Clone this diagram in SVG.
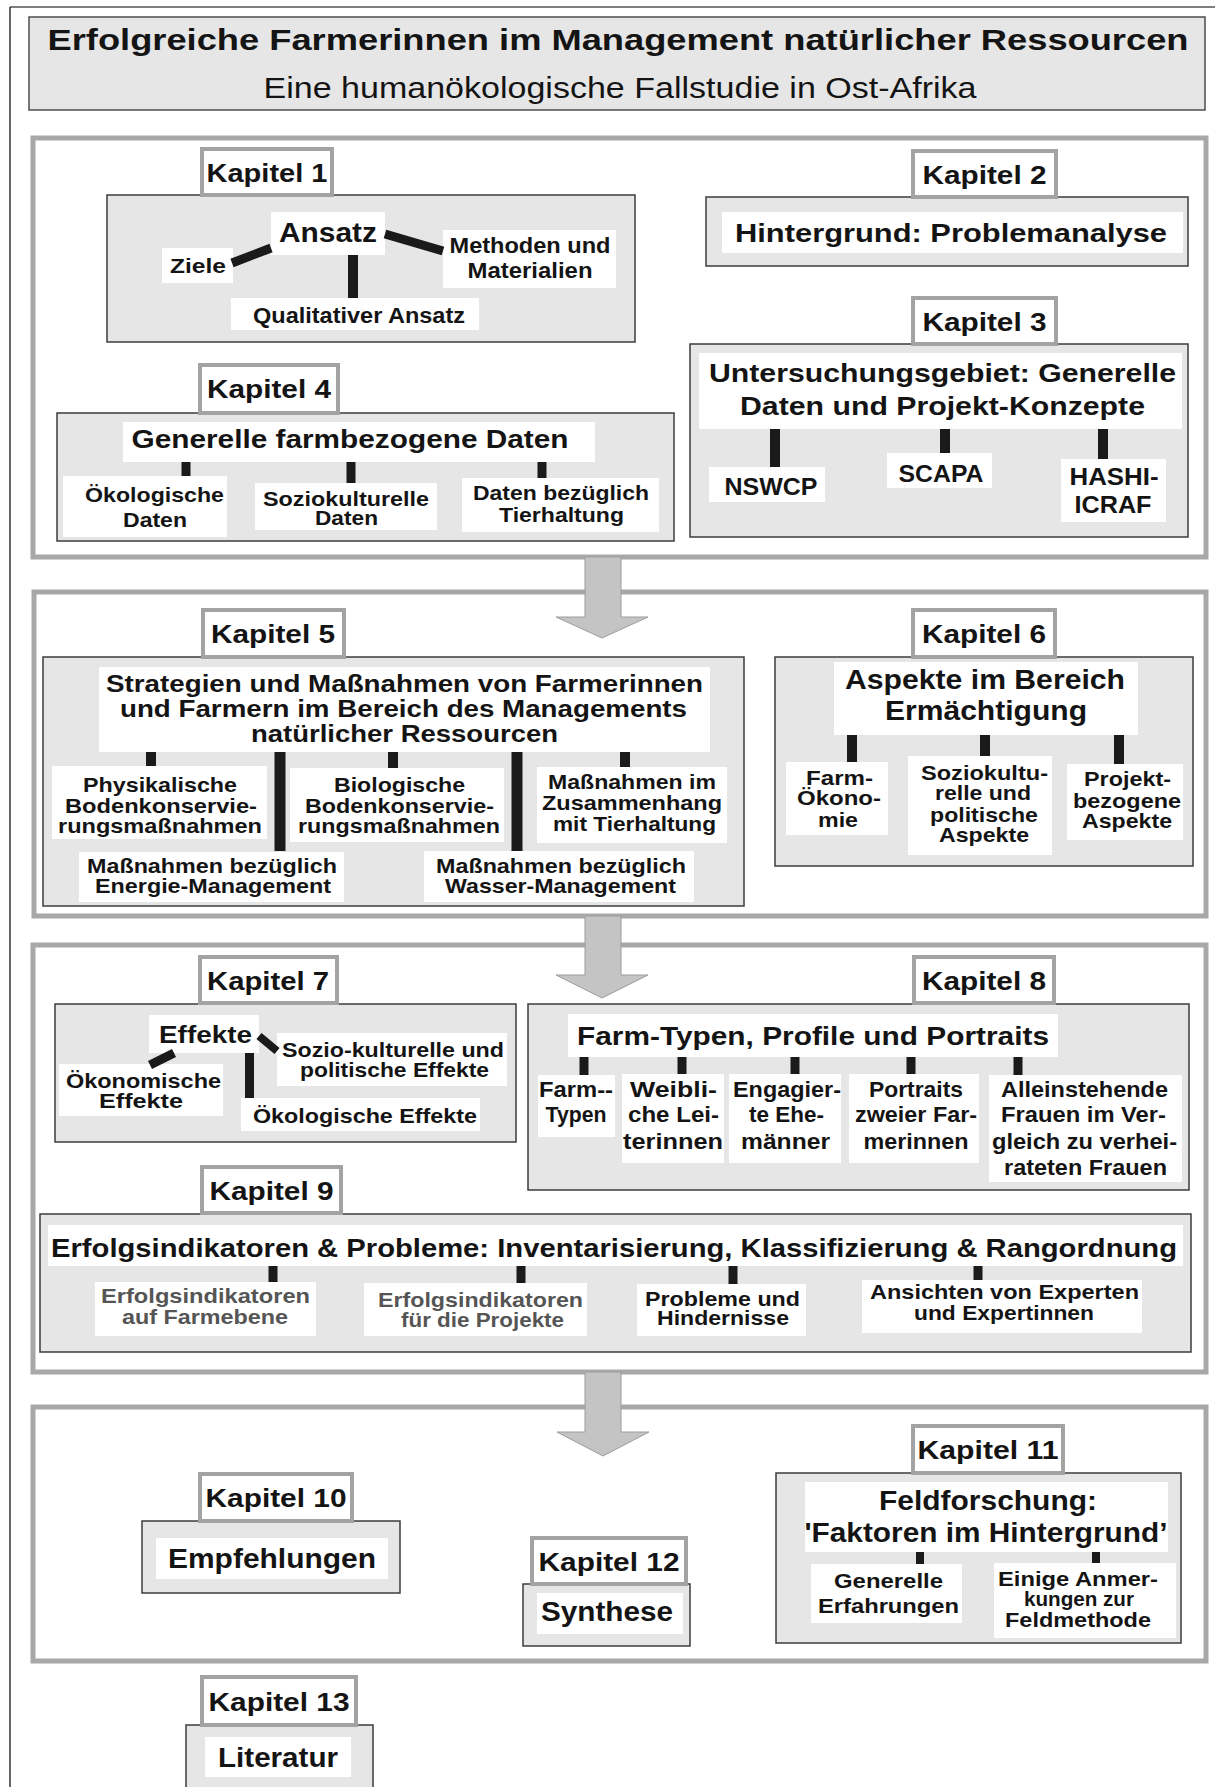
<svg xmlns="http://www.w3.org/2000/svg" width="1215" height="1787" viewBox="0 0 1215 1787">
  <style>
    .sec { fill: #ffffff; stroke: #a8a8a8; stroke-width: 5; }
    .tag { fill: #ffffff; stroke: #a3a3a3; stroke-width: 4; }
    .box { fill: #e6e6e6; stroke: #3c3c3c; stroke-width: 1.5; }
    .wb { fill: #ffffff; }
    .arrow { fill: #c4c4c4; stroke: #9c9c9c; stroke-width: 1; }
    .con { stroke: #1a1a1a; fill: none; }
    text { font-family: "Liberation Sans", Arial, sans-serif; font-weight: bold; fill: #141414; text-anchor: middle; }
    .k { font-size: 26px; }
    .h { font-size: 25px; }
    .m { font-size: 22px; }
    .s { font-size: 21px; }
    .g { fill: #555555; }
  </style>

  <!-- page frame -->
  <g id="page">
    <line x1="10" y1="7" x2="1215" y2="7" stroke="#000" stroke-width="1.2"/>
    <line x1="10" y1="7" x2="10" y2="1787" stroke="#000" stroke-width="1.2"/>
  </g>

  <!-- heading: wide lettering -->
  <g id="title">
    <rect x="29" y="17" width="1176" height="93" fill="#e6e6e6" stroke="#4d4d4d" stroke-width="1.5"/>
    <text x="618" y="50" style="font-size:29px" textLength="1141" lengthAdjust="spacingAndGlyphs">Erfolgreiche Farmerinnen im Management natürlicher Ressourcen</text>
    <text x="620" y="98" style="font-size:29px;font-weight:normal" textLength="713" lengthAdjust="spacingAndGlyphs">Eine humanökologische Fallstudie in Ost-Afrika</text>
  </g>

  <!-- section frames -->
  <g id="sections">
    <rect class="sec" x="33" y="138" width="1173" height="419"/>
    <rect class="sec" x="34" y="592" width="1172" height="324"/>
    <rect class="sec" x="33" y="945" width="1173" height="427"/>
    <rect class="sec" x="33" y="1407" width="1173" height="254"/>
  </g>

  <!-- Kapitel 1 -->
  <g id="kapitel-1">
    <rect class="box" x="107" y="195" width="528" height="147"/>
    <rect class="tag" x="202" y="149" width="130" height="46"/>
    <text class="k" x="267" y="182" textLength="121" lengthAdjust="spacingAndGlyphs">Kapitel 1</text>
    <rect class="wb" x="271" y="212" width="114" height="43"/>
    <text x="328" y="242" style="font-size:27px" textLength="98" lengthAdjust="spacingAndGlyphs">Ansatz</text>
    <rect class="wb" x="162" y="248" width="71" height="35"/>
    <text class="s" x="198" y="273" textLength="56" lengthAdjust="spacingAndGlyphs">Ziele</text>
    <rect class="wb" x="443" y="230" width="173" height="58"/>
    <text class="m" x="530" y="253" textLength="161" lengthAdjust="spacingAndGlyphs">Methoden und</text>
    <text class="m" x="530" y="278" textLength="125" lengthAdjust="spacingAndGlyphs">Materialien</text>
    <rect class="wb" x="231" y="298" width="248" height="32"/>
    <text class="m" x="359" y="323" textLength="212" lengthAdjust="spacingAndGlyphs">Qualitativer Ansatz</text>
  </g>

  <!-- Kapitel 2 -->
  <g id="kapitel-2">
    <rect class="box" x="706" y="197" width="482" height="69"/>
    <rect class="tag" x="913" y="151" width="143" height="46"/>
    <text class="k" x="984.5" y="184" textLength="124" lengthAdjust="spacingAndGlyphs">Kapitel 2</text>
    <rect class="wb" x="722" y="212" width="461" height="41"/>
    <text class="h" x="951" y="242" textLength="432" lengthAdjust="spacingAndGlyphs">Hintergrund: Problemanalyse</text>
  </g>

  <!-- Kapitel 3 -->
  <g id="kapitel-3">
    <rect class="box" x="690" y="344" width="498" height="193"/>
    <rect class="tag" x="913" y="298" width="143" height="46"/>
    <text class="k" x="984.5" y="331" textLength="124" lengthAdjust="spacingAndGlyphs">Kapitel 3</text>
    <rect class="wb" x="699" y="353" width="483" height="76"/>
    <text class="h" x="942.5" y="382" textLength="467" lengthAdjust="spacingAndGlyphs">Untersuchungsgebiet: Generelle</text>
    <text class="h" x="942.5" y="415" textLength="405" lengthAdjust="spacingAndGlyphs">Daten und Projekt-Konzepte</text>
    <rect class="wb" x="709" y="467" width="116" height="35"/>
    <text class="m" x="771" y="495" style="font-size:24px" textLength="93" lengthAdjust="spacingAndGlyphs">NSWCP</text>
    <rect class="wb" x="887" y="453" width="105" height="35"/>
    <text class="m" x="941" y="482" style="font-size:24px" textLength="85" lengthAdjust="spacingAndGlyphs">SCAPA</text>
    <rect class="wb" x="1061" y="459" width="105" height="63"/>
    <text class="m" x="1114" y="485" style="font-size:24px" textLength="89" lengthAdjust="spacingAndGlyphs">HASHI-</text>
    <text class="m" x="1113" y="513" style="font-size:24px" textLength="77" lengthAdjust="spacingAndGlyphs">ICRAF</text>
  </g>

  <!-- Kapitel 4 -->
  <g id="kapitel-4">
    <rect class="box" x="57" y="413" width="617" height="128"/>
    <rect class="tag" x="200" y="365" width="138" height="48"/>
    <text class="k" x="269" y="398" textLength="124" lengthAdjust="spacingAndGlyphs">Kapitel 4</text>
    <rect class="wb" x="123" y="422" width="472" height="40"/>
    <text class="h" x="350" y="448" textLength="437" lengthAdjust="spacingAndGlyphs">Generelle farmbezogene Daten</text>
    <rect class="wb" x="63" y="476" width="164" height="61"/>
    <text class="s" x="154.5" y="502" textLength="139" lengthAdjust="spacingAndGlyphs">Ökologische</text>
    <text class="s" x="155" y="527" textLength="64" lengthAdjust="spacingAndGlyphs">Daten</text>
    <rect class="wb" x="255" y="483" width="182" height="47"/>
    <text class="s" x="346" y="506" textLength="166" lengthAdjust="spacingAndGlyphs">Soziokulturelle</text>
    <text class="s" x="346.5" y="525" textLength="63" lengthAdjust="spacingAndGlyphs">Daten</text>
    <rect class="wb" x="462" y="478" width="197" height="54"/>
    <text class="s" x="561" y="500" textLength="176" lengthAdjust="spacingAndGlyphs">Daten bezüglich</text>
    <text class="s" x="561.5" y="522" textLength="125" lengthAdjust="spacingAndGlyphs">Tierhaltung</text>
  </g>

  <!-- Kapitel 5 -->
  <g id="kapitel-5">
    <rect class="box" x="43" y="657" width="701" height="249"/>
    <rect class="tag" x="203" y="610" width="141" height="47"/>
    <text class="k" x="273" y="643" textLength="124" lengthAdjust="spacingAndGlyphs">Kapitel 5</text>
    <rect class="wb" x="99" y="667" width="611" height="85"/>
    <text x="404.5" y="692" style="font-size:23px" textLength="597" lengthAdjust="spacingAndGlyphs">Strategien und Maßnahmen von Farmerinnen</text>
    <text x="403.5" y="717" style="font-size:23px" textLength="567" lengthAdjust="spacingAndGlyphs">und Farmern im Bereich des Managements</text>
    <text x="404.5" y="742" style="font-size:23px" textLength="307" lengthAdjust="spacingAndGlyphs">natürlicher Ressourcen</text>
    <rect class="wb" x="52" y="766" width="215" height="73"/>
    <text class="s" x="160" y="792" textLength="154" lengthAdjust="spacingAndGlyphs">Physikalische</text>
    <text class="s" x="161" y="813" textLength="192" lengthAdjust="spacingAndGlyphs">Bodenkonservie-</text>
    <text class="s" x="160" y="833" textLength="204" lengthAdjust="spacingAndGlyphs">rungsmaßnahmen</text>
    <rect class="wb" x="290" y="768" width="214" height="74"/>
    <text class="s" x="399.5" y="792" textLength="131" lengthAdjust="spacingAndGlyphs">Biologische</text>
    <text class="s" x="399.5" y="813" textLength="189" lengthAdjust="spacingAndGlyphs">Bodenkonservie-</text>
    <text class="s" x="399" y="833" textLength="202" lengthAdjust="spacingAndGlyphs">rungsmaßnahmen</text>
    <rect class="wb" x="537" y="767" width="190" height="76"/>
    <text class="s" x="632" y="789" textLength="168" lengthAdjust="spacingAndGlyphs">Maßnahmen im</text>
    <text class="s" x="632" y="810" textLength="180" lengthAdjust="spacingAndGlyphs">Zusammenhang</text>
    <text class="s" x="634.5" y="831" textLength="163" lengthAdjust="spacingAndGlyphs">mit Tierhaltung</text>
    <rect class="wb" x="79" y="852" width="265" height="50"/>
    <text class="s" x="212" y="873" textLength="250" lengthAdjust="spacingAndGlyphs">Maßnahmen bezüglich</text>
    <text class="s" x="213" y="893" textLength="236" lengthAdjust="spacingAndGlyphs">Energie-Management</text>
    <rect class="wb" x="424" y="851" width="270" height="51"/>
    <text class="s" x="561" y="873" textLength="250" lengthAdjust="spacingAndGlyphs">Maßnahmen bezüglich</text>
    <text class="s" x="560.5" y="893" textLength="231" lengthAdjust="spacingAndGlyphs">Wasser-Management</text>
  </g>

  <!-- Kapitel 6 -->
  <g id="kapitel-6">
    <rect class="box" x="775" y="657" width="418" height="209"/>
    <rect class="tag" x="913" y="610" width="142" height="47"/>
    <text class="k" x="984" y="643" textLength="124" lengthAdjust="spacingAndGlyphs">Kapitel 6</text>
    <rect class="wb" x="834" y="662" width="304" height="73"/>
    <text x="985" y="689" style="font-size:27px" textLength="280" lengthAdjust="spacingAndGlyphs">Aspekte im Bereich</text>
    <text x="986" y="720" style="font-size:27px" textLength="202" lengthAdjust="spacingAndGlyphs">Ermächtigung</text>
    <rect class="wb" x="786" y="762" width="102" height="73"/>
    <text class="s" x="839.5" y="785" textLength="67" lengthAdjust="spacingAndGlyphs">Farm-</text>
    <text class="s" x="839" y="805" textLength="84" lengthAdjust="spacingAndGlyphs">Ökono-</text>
    <text class="s" x="838" y="827" textLength="40" lengthAdjust="spacingAndGlyphs">mie</text>
    <rect class="wb" x="908" y="756" width="144" height="99"/>
    <text class="s" x="984.5" y="780" textLength="127" lengthAdjust="spacingAndGlyphs">Soziokultu-</text>
    <text class="s" x="983" y="800" textLength="96" lengthAdjust="spacingAndGlyphs">relle und</text>
    <text class="s" x="984" y="822" textLength="108" lengthAdjust="spacingAndGlyphs">politische</text>
    <text class="s" x="984" y="842" textLength="90" lengthAdjust="spacingAndGlyphs">Aspekte</text>
    <rect class="wb" x="1067" y="764" width="116" height="76"/>
    <text class="s" x="1127.5" y="786" textLength="87" lengthAdjust="spacingAndGlyphs">Projekt-</text>
    <text class="s" x="1127" y="808" textLength="108" lengthAdjust="spacingAndGlyphs">bezogene</text>
    <text class="s" x="1127" y="828" textLength="90" lengthAdjust="spacingAndGlyphs">Aspekte</text>
  </g>

  <!-- Kapitel 7 -->
  <g id="kapitel-7">
    <rect class="box" x="55" y="1004" width="461" height="138"/>
    <rect class="tag" x="200" y="957" width="137" height="46"/>
    <text class="k" x="268" y="990" textLength="122" lengthAdjust="spacingAndGlyphs">Kapitel 7</text>
    <rect class="wb" x="149" y="1015" width="110" height="38"/>
    <text x="205.5" y="1043" style="font-size:23px" textLength="93" lengthAdjust="spacingAndGlyphs">Effekte</text>
    <rect class="wb" x="59" y="1064" width="164" height="52"/>
    <text class="s" x="143.5" y="1088" textLength="155" lengthAdjust="spacingAndGlyphs">Ökonomische</text>
    <text class="s" x="141" y="1108" textLength="84" lengthAdjust="spacingAndGlyphs">Effekte</text>
    <rect class="wb" x="277" y="1033" width="230" height="53"/>
    <text class="s" x="393" y="1057" textLength="222" lengthAdjust="spacingAndGlyphs">Sozio-kulturelle und</text>
    <text class="s" x="394.5" y="1077" textLength="189" lengthAdjust="spacingAndGlyphs">politische Effekte</text>
    <rect class="wb" x="241" y="1098" width="239" height="33"/>
    <text class="s" x="365" y="1123" textLength="224" lengthAdjust="spacingAndGlyphs">Ökologische Effekte</text>
  </g>

  <!-- Kapitel 8 -->
  <g id="kapitel-8">
    <rect class="box" x="528" y="1004" width="661" height="186"/>
    <rect class="tag" x="914" y="957" width="140" height="46"/>
    <text class="k" x="984" y="990" textLength="124" lengthAdjust="spacingAndGlyphs">Kapitel 8</text>
    <rect class="wb" x="568" y="1014" width="490" height="43"/>
    <text class="h" x="813" y="1045" textLength="472" lengthAdjust="spacingAndGlyphs">Farm-Typen, Profile und Portraits</text>
    <rect class="wb" x="538" y="1075" width="77" height="62"/>
    <text class="m" x="576" y="1097" textLength="74" lengthAdjust="spacingAndGlyphs">Farm--</text>
    <text class="m" x="576" y="1122" textLength="61" lengthAdjust="spacingAndGlyphs">Typen</text>
    <rect class="wb" x="622" y="1074" width="102" height="89"/>
    <text class="m" x="673.5" y="1097" textLength="87" lengthAdjust="spacingAndGlyphs">Weibli-</text>
    <text class="m" x="673.5" y="1122" textLength="91" lengthAdjust="spacingAndGlyphs">che Lei-</text>
    <text class="m" x="673" y="1149" textLength="100" lengthAdjust="spacingAndGlyphs">terinnen</text>
    <rect class="wb" x="729" y="1074" width="112" height="89"/>
    <text class="m" x="787" y="1097" textLength="108" lengthAdjust="spacingAndGlyphs">Engagier-</text>
    <text class="m" x="786.5" y="1122" textLength="75" lengthAdjust="spacingAndGlyphs">te Ehe-</text>
    <text class="m" x="785.5" y="1149" textLength="89" lengthAdjust="spacingAndGlyphs">männer</text>
    <rect class="wb" x="849" y="1074" width="130" height="89"/>
    <text class="m" x="916" y="1097" textLength="94" lengthAdjust="spacingAndGlyphs">Portraits</text>
    <text class="m" x="916" y="1122" textLength="122" lengthAdjust="spacingAndGlyphs">zweier Far-</text>
    <text class="m" x="916" y="1149" textLength="105" lengthAdjust="spacingAndGlyphs">merinnen</text>
    <rect class="wb" x="989" y="1075" width="193" height="107"/>
    <text class="m" x="1084.5" y="1097" textLength="167" lengthAdjust="spacingAndGlyphs">Alleinstehende</text>
    <text class="m" x="1083.5" y="1122" textLength="165" lengthAdjust="spacingAndGlyphs">Frauen im Ver-</text>
    <text class="m" x="1084.5" y="1149" textLength="185" lengthAdjust="spacingAndGlyphs">gleich zu verhei-</text>
    <text class="m" x="1085.5" y="1175" textLength="163" lengthAdjust="spacingAndGlyphs">rateten Frauen</text>
  </g>

  <!-- Kapitel 9 -->
  <g id="kapitel-9">
    <rect class="box" x="40" y="1214" width="1151" height="138"/>
    <rect class="tag" x="202" y="1167" width="139" height="46"/>
    <text class="k" x="271.5" y="1200" textLength="124" lengthAdjust="spacingAndGlyphs">Kapitel 9</text>
    <rect class="wb" x="48" y="1225" width="1135" height="41"/>
    <text class="h" x="614" y="1257" textLength="1126" lengthAdjust="spacingAndGlyphs">Erfolgsindikatoren &amp; Probleme: Inventarisierung, Klassifizierung &amp; Rangordnung</text>
    <rect class="wb" x="95" y="1282" width="221" height="54"/>
    <text class="s g" x="205.5" y="1303" textLength="209" lengthAdjust="spacingAndGlyphs">Erfolgsindikatoren</text>
    <text class="s g" x="205" y="1324" textLength="166" lengthAdjust="spacingAndGlyphs">auf Farmebene</text>
    <rect class="wb" x="364" y="1283" width="223" height="53"/>
    <text class="s g" x="480.5" y="1307" textLength="205" lengthAdjust="spacingAndGlyphs">Erfolgsindikatoren</text>
    <text class="s g" x="482.5" y="1327" textLength="163" lengthAdjust="spacingAndGlyphs">für die Projekte</text>
    <rect class="wb" x="637" y="1284" width="169" height="52"/>
    <text class="s" x="722.5" y="1306" textLength="155" lengthAdjust="spacingAndGlyphs">Probleme und</text>
    <text class="s" x="723" y="1325" textLength="132" lengthAdjust="spacingAndGlyphs">Hindernisse</text>
    <rect class="wb" x="862" y="1280" width="280" height="53"/>
    <text class="s" x="1004.5" y="1299" textLength="269" lengthAdjust="spacingAndGlyphs">Ansichten von Experten</text>
    <text class="s" x="1004" y="1320" textLength="180" lengthAdjust="spacingAndGlyphs">und Expertinnen</text>
  </g>

  <!-- Kapitel 10 -->
  <g id="kapitel-10">
    <rect class="box" x="142" y="1521" width="258" height="72"/>
    <rect class="tag" x="200" y="1474" width="152" height="47"/>
    <text class="k" x="276" y="1507" textLength="141" lengthAdjust="spacingAndGlyphs">Kapitel 10</text>
    <rect class="wb" x="156" y="1538" width="232" height="41"/>
    <text x="272" y="1568" style="font-size:27px" textLength="208" lengthAdjust="spacingAndGlyphs">Empfehlungen</text>
  </g>

  <!-- Kapitel 11 -->
  <g id="kapitel-11">
    <rect class="box" x="776" y="1473" width="405" height="170"/>
    <rect class="tag" x="913" y="1426" width="150" height="47"/>
    <text class="k" x="988" y="1459" textLength="141" lengthAdjust="spacingAndGlyphs">Kapitel 11</text>
    <rect class="wb" x="805" y="1482" width="363" height="70"/>
    <text x="988" y="1510" style="font-size:27px" textLength="218" lengthAdjust="spacingAndGlyphs">Feldforschung:</text>
    <text x="986" y="1542" style="font-size:27px" textLength="363" lengthAdjust="spacingAndGlyphs">'Faktoren im Hintergrund’</text>
    <rect class="wb" x="811" y="1564" width="151" height="59"/>
    <text class="s" x="888.5" y="1588" textLength="109" lengthAdjust="spacingAndGlyphs">Generelle</text>
    <text class="s" x="888.5" y="1613" textLength="141" lengthAdjust="spacingAndGlyphs">Erfahrungen</text>
    <rect class="wb" x="994" y="1563" width="182" height="75"/>
    <text class="s" x="1078" y="1586" textLength="160" lengthAdjust="spacingAndGlyphs">Einige Anmer-</text>
    <text class="s" x="1079" y="1606" textLength="110" lengthAdjust="spacingAndGlyphs">kungen zur</text>
    <text class="s" x="1078" y="1627" textLength="146" lengthAdjust="spacingAndGlyphs">Feldmethode</text>
  </g>

  <!-- Kapitel 12 -->
  <g id="kapitel-12">
    <rect class="box" x="523" y="1584" width="167" height="62"/>
    <rect class="tag" x="532" y="1538" width="154" height="46"/>
    <text class="k" x="609" y="1571" textLength="141" lengthAdjust="spacingAndGlyphs">Kapitel 12</text>
    <rect class="wb" x="537" y="1593" width="146" height="41"/>
    <text x="607" y="1621" style="font-size:28px" textLength="132" lengthAdjust="spacingAndGlyphs">Synthese</text>
  </g>

  <!-- Kapitel 13 -->
  <g id="kapitel-13">
    <rect class="box" x="186" y="1725" width="187" height="80"/>
    <rect class="tag" x="202" y="1677" width="154" height="48"/>
    <text class="k" x="279" y="1711" textLength="141" lengthAdjust="spacingAndGlyphs">Kapitel 13</text>
    <rect class="wb" x="205" y="1737" width="146" height="40"/>
    <text x="278" y="1767" style="font-size:28px" textLength="120" lengthAdjust="spacingAndGlyphs">Literatur</text>
  </g>

  <!-- connectors: tree links inside chapters and block arrows between sections -->
  <g id="connectors">
    <g class="con">
      <line x1="271" y1="248" x2="232" y2="263" stroke-width="9"/>
      <line x1="385" y1="234" x2="443" y2="251" stroke-width="9"/>
      <line x1="353" y1="255" x2="353" y2="298" stroke-width="10"/>

      <line x1="775" y1="429" x2="775" y2="467" stroke-width="10"/>
      <line x1="945" y1="429" x2="945" y2="453" stroke-width="10"/>
      <line x1="1103" y1="429" x2="1103" y2="459" stroke-width="10"/>

      <line x1="186" y1="462" x2="186" y2="476" stroke-width="9"/>
      <line x1="351" y1="462" x2="351" y2="483" stroke-width="9"/>
      <line x1="542" y1="462" x2="542" y2="478" stroke-width="9"/>

      <line x1="151" y1="752" x2="151" y2="766" stroke-width="10"/>
      <line x1="280" y1="752" x2="280" y2="851" stroke-width="11"/>
      <line x1="393" y1="752" x2="393" y2="768" stroke-width="10"/>
      <line x1="517" y1="752" x2="517" y2="851" stroke-width="11"/>
      <line x1="625" y1="752" x2="625" y2="767" stroke-width="10"/>

      <line x1="852" y1="735" x2="852" y2="762" stroke-width="10"/>
      <line x1="985" y1="735" x2="985" y2="756" stroke-width="10"/>
      <line x1="1119" y1="735" x2="1119" y2="764" stroke-width="10"/>

      <line x1="174" y1="1053" x2="150" y2="1065" stroke-width="9"/>
      <line x1="259" y1="1036" x2="277" y2="1051" stroke-width="8"/>
      <line x1="249.5" y1="1053" x2="249.5" y2="1098" stroke-width="9"/>

      <line x1="584" y1="1057" x2="584" y2="1075" stroke-width="9"/>
      <line x1="682" y1="1057" x2="682" y2="1074" stroke-width="9"/>
      <line x1="795" y1="1057" x2="795" y2="1074" stroke-width="9"/>
      <line x1="911" y1="1057" x2="911" y2="1074" stroke-width="9"/>
      <line x1="1018" y1="1057" x2="1018" y2="1075" stroke-width="9"/>

      <line x1="273" y1="1266" x2="273" y2="1282" stroke-width="9"/>
      <line x1="521" y1="1266" x2="521" y2="1283" stroke-width="9"/>
      <line x1="733" y1="1266" x2="733" y2="1284" stroke-width="9"/>
      <line x1="978" y1="1266" x2="978" y2="1280" stroke-width="9"/>

      <line x1="920" y1="1552" x2="920" y2="1564" stroke-width="8"/>
      <line x1="1096" y1="1552" x2="1096" y2="1563" stroke-width="8"/>
    </g>
    <path class="arrow" d="M585,557 H621 V617 H648 L602,638 L556,617 H585 Z"/>
    <path class="arrow" d="M585,916 H621 V975 H648 L602,998 L556,975 H585 Z"/>
    <path class="arrow" d="M585,1372 H621 V1432 H649 L603,1456 L557,1432 H585 Z"/>
  </g>
</svg>
